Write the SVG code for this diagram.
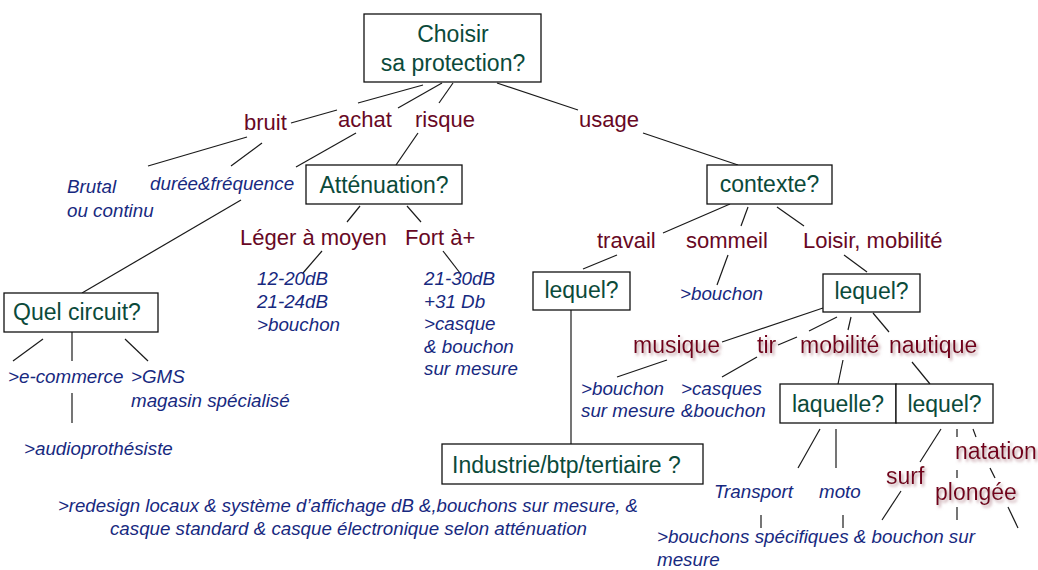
<svg xmlns="http://www.w3.org/2000/svg" width="1038" height="570" viewBox="0 0 1038 570">
<defs>
<style>
.box{fill:#fff;stroke:#111;stroke-width:1.3}
.bt{font-family:"Liberation Sans",Arial,sans-serif;font-size:23px;fill:#0b4a3a}
.rd{font-family:"Liberation Sans",Arial,sans-serif;font-size:22px;fill:#680824}
.rs{font-family:"Liberation Sans",Arial,sans-serif;font-size:23px;fill:#72061f;filter:url(#sh)}
.bl{font-family:"Liberation Sans",Arial,sans-serif;font-size:18.8px;font-style:italic;fill:#17297f}
.ln line{stroke:#1a1a1a;stroke-width:1.2}
</style>
<filter id="sh" x="-20%" y="-40%" width="140%" height="180%">
<feDropShadow dx="2" dy="2.5" stdDeviation="1.4" flood-color="#b58890" flood-opacity="0.8"/>
</filter>
</defs>
<rect width="1038" height="570" fill="#fff"/>
<g id="connectors" class="ln">
<line x1="423" y1="85" x2="358" y2="103"/>
<line x1="337" y1="110" x2="291" y2="123"/>
<line x1="442" y1="83" x2="398" y2="108"/>
<line x1="453" y1="83" x2="439" y2="103"/>
<line x1="497" y1="83" x2="578" y2="110"/>
<line x1="643" y1="133" x2="738" y2="165"/>
<line x1="247" y1="137" x2="148" y2="166"/>
<line x1="262" y1="143" x2="231" y2="166"/>
<line x1="356" y1="133" x2="296" y2="167"/>
<line x1="241" y1="200" x2="82" y2="293"/>
<line x1="418" y1="133" x2="396" y2="165"/>
<line x1="360" y1="206" x2="347" y2="222"/>
<line x1="407" y1="206" x2="421" y2="222"/>
<line x1="322" y1="251" x2="303" y2="273"/>
<line x1="443" y1="251" x2="460" y2="273"/>
<line x1="43" y1="339" x2="13" y2="361"/>
<line x1="72" y1="332" x2="72" y2="361"/>
<line x1="125" y1="339" x2="148" y2="361"/>
<line x1="72" y1="393" x2="72" y2="423"/>
<line x1="730" y1="204" x2="663" y2="233"/>
<line x1="748" y1="207" x2="741" y2="226"/>
<line x1="777" y1="207" x2="804" y2="226"/>
<line x1="617" y1="255" x2="583" y2="269"/>
<line x1="728" y1="255" x2="717" y2="285"/>
<line x1="844" y1="255" x2="867" y2="272"/>
<line x1="571" y1="310" x2="571" y2="444"/>
<line x1="823" y1="308" x2="722" y2="342"/>
<line x1="837" y1="317" x2="809" y2="331"/>
<line x1="797" y1="337" x2="778" y2="345"/>
<line x1="851" y1="317" x2="848" y2="330"/>
<line x1="873" y1="313" x2="889" y2="332"/>
<line x1="667" y1="360" x2="617" y2="377"/>
<line x1="757" y1="357" x2="722" y2="377"/>
<line x1="843" y1="360" x2="838" y2="384"/>
<line x1="912" y1="362" x2="930" y2="384"/>
<line x1="820" y1="429" x2="798" y2="468"/>
<line x1="836" y1="429" x2="836" y2="468"/>
<line x1="761" y1="515" x2="761" y2="528"/>
<line x1="843" y1="515" x2="843" y2="528"/>
<line x1="941" y1="429" x2="920" y2="462"/>
<line x1="901" y1="491" x2="882" y2="520"/>
<line x1="957" y1="429" x2="957" y2="437"/>
<line x1="957" y1="470" x2="957" y2="478"/>
<line x1="957" y1="507" x2="957" y2="520"/>
<line x1="973" y1="429" x2="976" y2="437"/>
<line x1="990" y1="468" x2="995" y2="478"/>
<line x1="1008" y1="507" x2="1018" y2="528"/>
</g>
<g id="root">
<rect class="box" x="364" y="14" width="177" height="68"/>
<text class="bt" x="453" y="42" text-anchor="middle">Choisir</text>
<text class="bt" x="453" y="71" text-anchor="middle">sa protection?</text>
</g>
<g id="labels-top">
<text class="rd" x="244" y="130">bruit</text>
<text class="rd" x="338" y="127">achat</text>
<text class="rd" x="415" y="127">risque</text>
<text class="rd" x="579" y="127">usage</text>
</g>
<g id="bruit-leaves">
<text class="bl" x="67" y="193">Brutal</text>
<text class="bl" x="67" y="217">ou continu</text>
<text class="bl" x="150" y="190">durée&amp;fréquence</text>
</g>
<g id="attenuation">
<rect class="box" x="306" y="165" width="156" height="39"/>
<text class="bt" x="384" y="193" text-anchor="middle">Atténuation?</text>
</g>
<g id="att-levels">
<text class="rd" x="240" y="245">Léger à moyen</text>
<text class="rd" x="405" y="245">Fort à+</text>
</g>
<g id="leger-leaf">
<text class="bl" x="257" y="285">12-20dB</text>
<text class="bl" x="257" y="308">21-24dB</text>
<text class="bl" x="257" y="331">&gt;bouchon</text>
</g>
<g id="fort-leaf">
<text class="bl" x="424" y="285">21-30dB</text>
<text class="bl" x="424" y="308">+31 Db</text>
<text class="bl" x="424" y="330">&gt;casque</text>
<text class="bl" x="424" y="353">&amp; bouchon</text>
<text class="bl" x="424" y="375">sur mesure</text>
</g>
<g id="circuit">
<rect class="box" x="4" y="293" width="154" height="39"/>
<text class="bt" x="13" y="320">Quel circuit?</text>
</g>
<g id="circuit-leaves">
<text class="bl" x="8" y="383">&gt;e-commerce</text>
<text class="bl" x="131" y="383">&gt;GMS</text>
<text class="bl" x="131" y="407">magasin spécialisé</text>
<text class="bl" x="24" y="455">&gt;audioprothésiste</text>
</g>
<g id="contexte">
<rect class="box" x="707" y="165" width="125" height="39"/>
<text class="bt" x="769.5" y="192" text-anchor="middle">contexte?</text>
</g>
<g id="contexte-labels">
<text class="rd" x="597" y="248">travail</text>
<text class="rd" x="686" y="248">sommeil</text>
<text class="rd" x="803" y="248">Loisir, mobilité</text>
</g>
<g id="lequel-travail">
<rect class="box" x="533" y="272" width="97" height="38"/>
<text class="bt" x="581.5" y="298" text-anchor="middle">lequel?</text>
</g>
<g id="sommeil-leaf">
<text class="bl" x="680" y="300">&gt;bouchon</text>
</g>
<g id="industrie">
<rect class="box" x="442" y="444" width="261" height="40"/>
<text class="bt" x="452" y="473">Industrie/btp/tertiaire ?</text>
</g>
<g id="industrie-leaf">
<text class="bl" x="58" y="512" textLength="580" lengthAdjust="spacingAndGlyphs">&gt;redesign locaux &amp; système d’affichage dB &amp;,bouchons sur mesure, &amp;</text>
<text class="bl" x="110" y="535" textLength="477" lengthAdjust="spacingAndGlyphs">casque standard &amp; casque électronique selon atténuation</text>
</g>
<g id="lequel-loisir">
<rect class="box" x="823" y="274" width="97" height="38"/>
<text class="bt" x="871.5" y="299" text-anchor="middle">lequel?</text>
</g>
<g id="loisir-labels">
<text class="rs" x="633" y="353">musique</text>
<text class="rs" x="757" y="353">tir</text>
<text class="rs" x="800" y="353">mobilité</text>
<text class="rs" x="889" y="353">nautique</text>
</g>
<g id="musique-leaf">
<text class="bl" x="581" y="395">&gt;bouchon</text>
<text class="bl" x="581" y="417">sur mesure</text>
</g>
<g id="tir-leaf">
<text class="bl" x="681" y="395">&gt;casques</text>
<text class="bl" x="681" y="417">&amp;bouchon</text>
</g>
<g id="laquelle-lequel">
<rect class="box" x="780" y="384" width="116" height="39"/>
<rect class="box" x="896" y="384" width="97" height="39"/>
<text class="bt" x="838" y="412" text-anchor="middle">laquelle?</text>
<text class="bt" x="944.5" y="412" text-anchor="middle">lequel?</text>
</g>
<g id="mobilite-leaves">
<text class="bl" x="714" y="498">Transport</text>
<text class="bl" x="819" y="498">moto</text>
<text class="bl" x="657" y="543">&gt;bouchons spécifiques &amp; bouchon sur</text>
<text class="bl" x="657" y="566">mesure</text>
</g>
<g id="nautique-leaves">
<text class="rs" x="886" y="484">surf</text>
<text class="rs" x="955" y="459">natation</text>
<text class="rs" x="935" y="500">plongée</text>
</g>
</svg>
